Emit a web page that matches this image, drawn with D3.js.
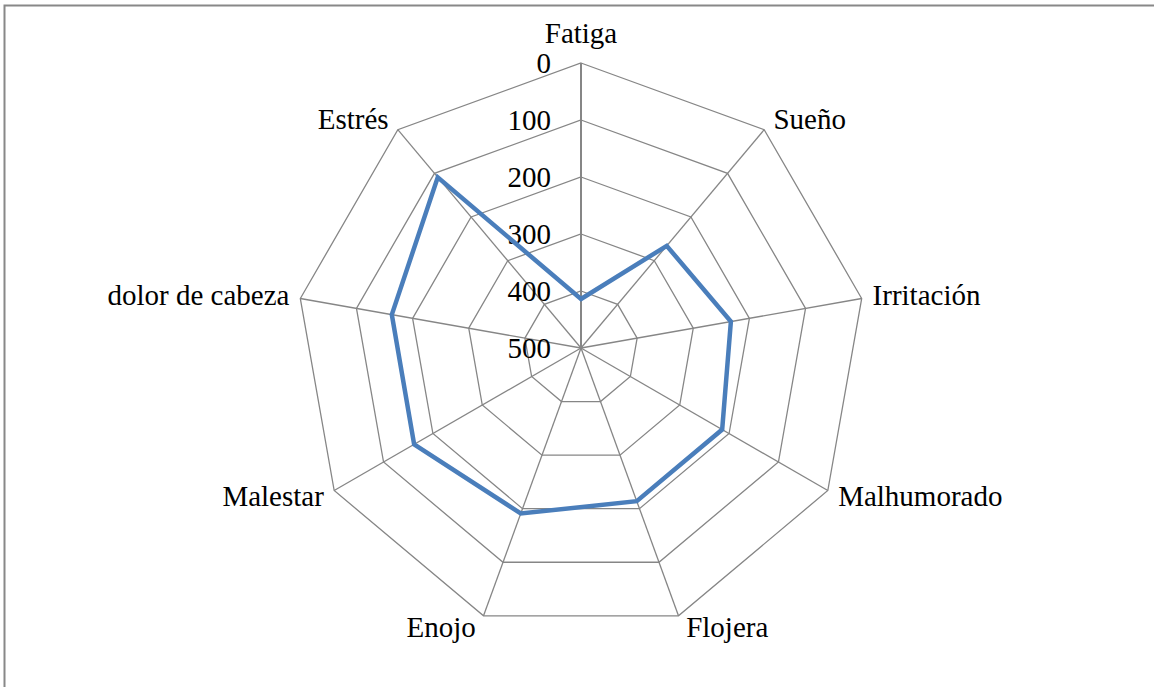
<!DOCTYPE html>
<html>
<head>
<meta charset="utf-8">
<script src="https://cdnjs.cloudflare.com/ajax/libs/d3/7.8.5/d3.min.js"></script>
<style>
  html, body { margin: 0; padding: 0; background: #fff; }
</style>
</head>
<body>
<div id="chart"></div>
<script>
// categories and values (axis is reversed: 0 outside, 500 in the centre)
var categories = ["Fatiga", "Sueño", "Irritación", "Malhumorado", "Flojera",
                  "Enojo", "Malestar", "dolor de cabeza", "Estrés"];
var values = [414, 266, 233, 214, 214, 191, 162, 163, 109];
var ticks = [0, 100, 200, 300, 400, 500];

var width = 1154, height = 687;
var cx = 581, cy = 348, radius = 285;
var font = "'Liberation Serif', 'Times New Roman', Times, serif";

var svg = d3.select("#chart").append("svg")
    .attr("width", width)
    .attr("height", height)
    .style("font-family", font);

// frame (only top and left edges visible in the picture)
svg.append("rect")
    .attr("x", 4.5).attr("y", 5.5)
    .attr("width", width + 20).attr("height", height + 20)
    .attr("fill", "none")
    .attr("stroke", "#888")
    .attr("stroke-width", 2);

var r = d3.scaleLinear().domain([0, 500]).range([radius, 0]);
var angle = d3.scaleLinear().domain([0, categories.length]).range([0, 2 * Math.PI]);

function pt(i, rad) {
    var a = angle(i);
    return [cx + rad * Math.sin(a), cy - rad * Math.cos(a)];
}

var g = svg.append("g");

// rings
ticks.slice(0, -1).forEach(function (t) {
    var pts = categories.map(function (c, i) { return pt(i, r(t)); });
    g.append("path")
        .attr("d", d3.line()(pts) + "Z")
        .attr("fill", "none")
        .attr("stroke", "#868686")
        .attr("stroke-width", 1.3);
});

// spokes
categories.forEach(function (c, i) {
    var p = pt(i, radius);
    g.append("line")
        .attr("x1", cx).attr("y1", cy)
        .attr("x2", p[0]).attr("y2", p[1])
        .attr("stroke", "#868686")
        .attr("stroke-width", i === 0 ? 2 : 1.3);
});

// tick labels along the top axis
g.selectAll(".tick")
    .data(ticks)
    .enter().append("text")
    .attr("x", cx - 30)
    .attr("y", function (d) { return cy - r(d) + 10; })
    .attr("text-anchor", "end")
    .attr("font-family", font)
    .attr("font-size", 29)
    .text(function (d) { return d; });

// category labels
categories.forEach(function (c, i) {
    var a = angle(i);
    var p = pt(i, radius);
    var s = Math.sin(a);
    var anchor = Math.abs(s) < 0.01 ? "middle" : (s > 0 ? "start" : "end");
    var dx = Math.abs(s) < 0.01 ? 0 : (s > 0 ? 1 : -1) * (6 + 5 * Math.abs(s));
    var dy = Math.abs(s) < 0.01 ? -20 : 9 - 13 * Math.cos(a);
    g.append("text")
        .attr("x", p[0] + dx)
        .attr("y", p[1] + dy)
        .attr("text-anchor", anchor)
        .attr("font-family", font)
        .attr("font-size", 29)
        .text(c);
});

// data line
var linePts = values.map(function (v, i) { return pt(i, r(v)); });
g.append("path")
    .attr("d", d3.line()(linePts) + "Z")
    .attr("fill", "none")
    .attr("stroke", "#4a7ebb")
    .attr("stroke-width", 4.5)
    .attr("stroke-linejoin", "miter");
</script>
</body>
</html>
